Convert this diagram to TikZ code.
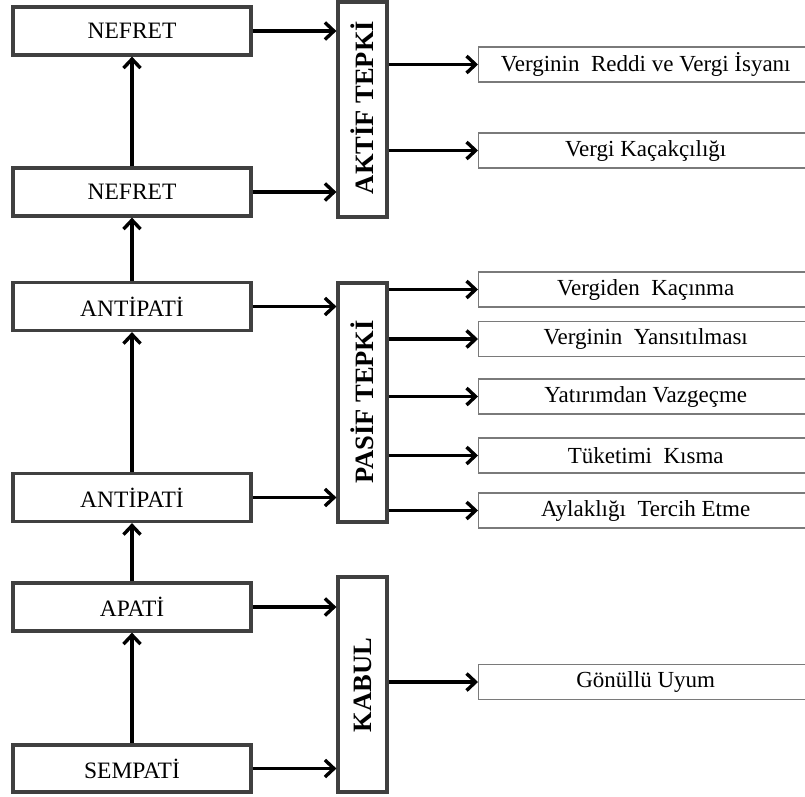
\documentclass[tikz,border=0pt]{standalone}
\usepackage{fontspec}
\setmainfont{Liberation Serif}
\usetikzlibrary{arrows.meta}
\definecolor{boxgray}{HTML}{404040}
\definecolor{thingray}{HTML}{7A7A7A}
\tikzset{
  leftbox/.style={draw=boxgray, line width=3.2pt, fill=white, minimum width=238pt, minimum height=48pt, inner sep=0pt, font=\fontsize{23.5}{27}\selectfont},
  midbox/.style={draw=boxgray, line width=3.2pt, fill=white, minimum width=49pt, inner sep=0pt},
  midtext/.style={rotate=90, inner sep=0pt, font=\fontsize{26.5}{30}\selectfont\bfseries},
  rightbox/.style={draw=thingray, line width=1.4pt, fill=white, minimum width=334pt, minimum height=35pt, inner sep=0pt, anchor=west, font=\fontsize{23}{27}\selectfont},
  arr/.style={draw=black, line width=3.4pt, -{Straight Barb[length=9pt,width=17pt,line width=3.4pt]}}
}
\begin{document}
\begin{tikzpicture}[x=1pt,y=-1pt]
\useasboundingbox (0,0) rectangle (805,796);
% left column
\node[leftbox] (nef1) at (132,31) {NEFRET};
\node[leftbox] (nef2) at (132,192) {NEFRET};
\node[leftbox] (ant1) at (132,306.5) {ANTİPATİ};
\node[leftbox] (ant2) at (132,497.5) {ANTİPATİ};
\node[leftbox] (apa) at (132,607) {APATİ};
\node[leftbox, minimum height=47pt] (sem) at (132,768.5) {SEMPATİ};
% middle column
\node[midbox, minimum height=215pt] (aktif) at (362.5,109.5) {};
\node[midtext] (aktift) at (362.5,107.5) {AKTİF TEPKİ};
\node[midbox, minimum height=239pt] (pasif) at (362.5,402.5) {};
\node[midtext] (pasift) at (362.5,402) {PASİF TEPKİ};
\node[midbox, minimum height=215pt] (kabul) at (362.5,684.5) {};
\node[midtext] (kabult) at (362.5,685) {KABUL};
% right column
\node[rightbox] (r1) at (478,64.5) {Verginin\ \ Reddi ve Vergi İsyanı};
\node[rightbox] (r2) at (478,150.5) {Vergi Kaçakçılığı};
\node[rightbox] (r3) at (478,289.5) {Vergiden\ \ Kaçınma};
\node[rightbox] (r4) at (478,339) {Verginin\ \ Yansıtılması};
\node[rightbox] (r5) at (478,396.5) {Yatırımdan Vazgeçme};
\node[rightbox] (r6) at (478,455.5) {Tüketimi\ \ Kısma};
\node[rightbox] (r7) at (478,510.5) {Aylaklığı\ \ Tercih Etme};
\node[rightbox] (r8) at (478,682) {Gönüllü Uyum};
% vertical arrows
\draw[arr] (nef2.north) -- (nef1.south);
\draw[arr] (ant1.north) -- (nef2.south);
\draw[arr] (ant2.north) -- (ant1.south);
\draw[arr] (apa.north) -- (ant2.south);
\draw[arr] (sem.north) -- (apa.south);
% left to middle
\draw[arr] (nef1.east) -- (nef1.east -| aktif.west);
\draw[arr] (nef2.east) -- (nef2.east -| aktif.west);
\draw[arr] (ant1.east) -- (ant1.east -| pasif.west);
\draw[arr] (ant2.east) -- (ant2.east -| pasif.west);
\draw[arr] (apa.east) -- (apa.east -| kabul.west);
\draw[arr] (sem.east) -- (sem.east -| kabul.west);
% middle to right
\draw[arr] (r1.west -| aktif.east) -- (r1.west);
\draw[arr] (r2.west -| aktif.east) -- (r2.west);
\draw[arr] (r3.west -| pasif.east) -- (r3.west);
\draw[arr] (r4.west -| pasif.east) -- (r4.west);
\draw[arr] (r5.west -| pasif.east) -- (r5.west);
\draw[arr] (r6.west -| pasif.east) -- (r6.west);
\draw[arr] (r7.west -| pasif.east) -- (r7.west);
\draw[arr] (r8.west -| kabul.east) -- (r8.west);
\end{tikzpicture}
\end{document}
